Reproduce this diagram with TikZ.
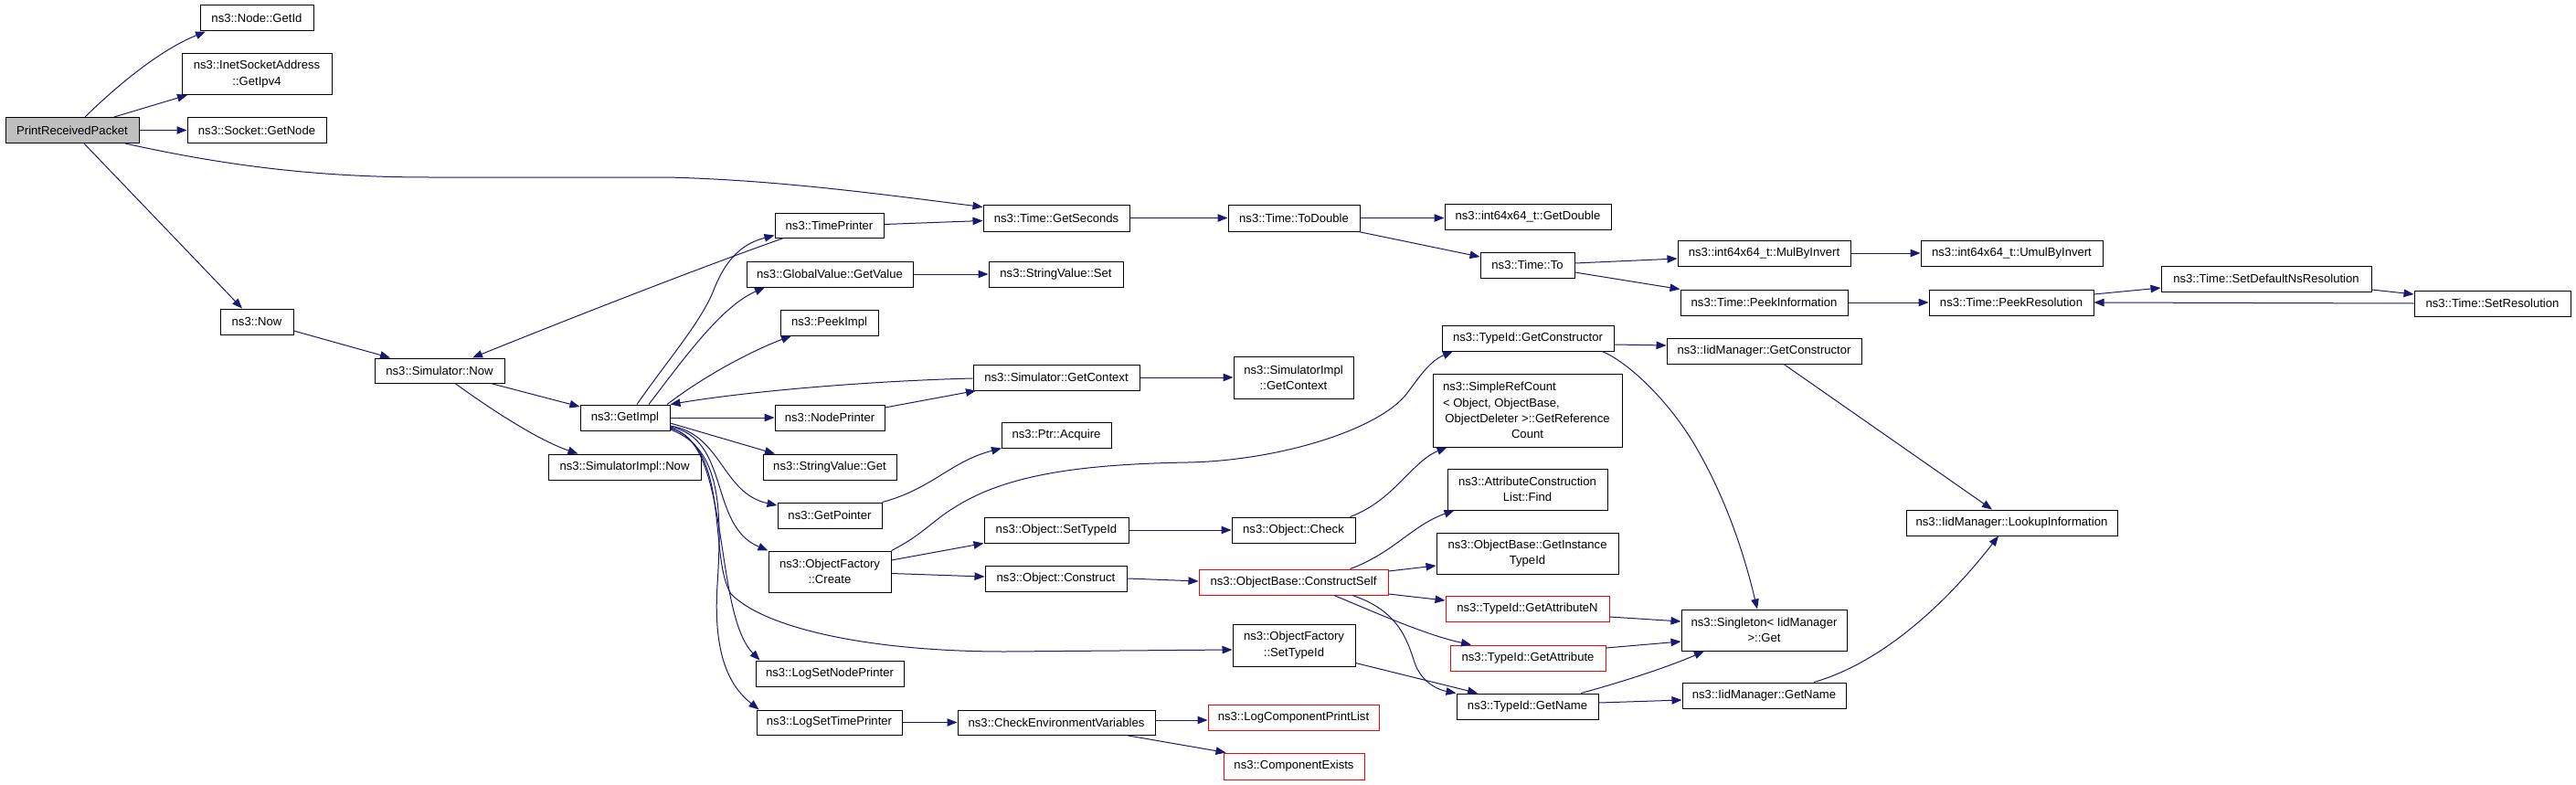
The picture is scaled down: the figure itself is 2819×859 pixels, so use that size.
\documentclass[tikz,border=0pt]{standalone}
\usepackage{fontspec}
\setmainfont{Liberation Sans}
\usetikzlibrary{arrows.meta}
\definecolor{edgec}{HTML}{191970}
\definecolor{fillg}{HTML}{BFBFBF}
\begin{document}
\begin{tikzpicture}[x=1pt,y=-1pt,
  bx/.style={draw=black, line width=1pt, fill=white, inner sep=0pt, align=center,
    font=\fontsize{13.1}{17.3}\selectfont, minimum height=28pt},
  redbx/.style={bx, draw=red},
  e/.style={draw=edgec, line width=1pt, -{Triangle[length=11pt,width=8.5pt]}}]
\useasboundingbox[fill=white] (0,0) rectangle (2819,859);
% nodes
\node[bx, fill=fillg, minimum width=146pt] (prp) at (79,142.5) {PrintReceivedPacket};
\node[bx, minimum width=124pt] (getid) at (281,20) {ns3::Node::GetId};
\node[bx, minimum width=164pt, minimum height=45pt] (ipv4) at (281,81) {ns3::InetSocketAddress\\::GetIpv4};
\node[bx, minimum width=152pt] (socket) at (281,142.5) {ns3::Socket::GetNode};
\node[bx, minimum width=80pt] (now) at (281,352) {ns3::Now};
\node[bx, minimum width=142pt, minimum height=27pt] (simnow) at (481,405.5) {ns3::Simulator::Now};
\node[bx, minimum width=98pt] (getimpl) at (684,457) {ns3::GetImpl};
\node[bx, minimum width=167pt] (simimplnow) at (683.5,511) {ns3::SimulatorImpl::Now};
\node[bx, minimum width=119pt, minimum height=27pt] (tp) at (907.5,246.5) {ns3::TimePrinter};
\node[bx, minimum width=182pt] (gv) at (908,300) {ns3::GlobalValue::GetValue};
\node[bx, minimum width=107pt] (peekimpl) at (907.5,353) {ns3::PeekImpl};
\node[bx, minimum width=120pt] (np) at (908,457) {ns3::NodePrinter};
\node[bx, minimum width=146pt] (svget) at (908,511) {ns3::StringValue::Get};
\node[bx, minimum width=114pt] (getptr) at (908,564) {ns3::GetPointer};
\node[bx, minimum width=134pt, minimum height=45pt] (create) at (908,625.5) {ns3::ObjectFactory\\::Create};
\node[bx, minimum width=162pt] (lsnp) at (908,737) {ns3::LogSetNodePrinter};
\node[bx, minimum width=159pt, minimum height=27pt] (lstp) at (907.5,790.5) {ns3::LogSetTimePrinter};
\node[bx, minimum width=160pt, minimum height=29pt] (getsec) at (1156,238.5) {ns3::Time::GetSeconds};
\node[bx, minimum width=147pt] (svset) at (1155.5,300) {ns3::StringValue::Set};
\node[bx, minimum width=182pt] (getctx) at (1156,413) {ns3::Simulator::GetContext};
\node[bx, minimum width=120pt] (acquire) at (1156,476) {ns3::Ptr::Acquire};
\node[bx, minimum width=158pt] (osettid) at (1156,580) {ns3::Object::SetTypeId};
\node[bx, minimum width=155pt] (oconstruct) at (1155.5,633) {ns3::Object::Construct};
\node[bx, minimum width=216pt, minimum height=27pt] (checkenv) at (1156,790.5) {ns3::CheckEnvironmentVariables};
\node[bx, minimum width=144pt, minimum height=29pt] (todouble) at (1416,238.5) {ns3::Time::ToDouble};
\node[bx, minimum width=131pt, minimum height=46pt] (simimplctx) at (1415.5,413) {ns3::SimulatorImpl\\::GetContext};
\node[bx, minimum width=135pt] (check) at (1415.5,580) {ns3::Object::Check};
\node[redbx, minimum width=207pt] (cself) at (1415.5,637) {ns3::ObjectBase::ConstructSelf};
\node[bx, minimum width=134pt, minimum height=46pt] (ofsettid) at (1416,706) {ns3::ObjectFactory\\::SetTypeId};
\node[redbx, minimum width=187pt] (lcpl) at (1415.5,785) {ns3::LogComponentPrintList};
\node[redbx, minimum width=154pt, minimum height=29pt] (compx) at (1416,838.5) {ns3::ComponentExists};
\node[bx, minimum width=182pt] (getdouble) at (1672,237) {ns3::int64x64\_t::GetDouble};
\node[bx, minimum width=103pt] (timeto) at (1671.5,290) {ns3::Time::To};
\node[bx, minimum width=188pt] (getctor) at (1672,370) {ns3::TypeId::GetConstructor};
\node[bx, minimum width=207pt, minimum height=80pt] (src) at (1671.5,449) {\makebox[185pt][l]{ns3::SimpleRefCount}\\\makebox[185pt][l]{< Object, ObjectBase,}\\ObjectDeleter >::GetReference\\Count};
\node[bx, minimum width=175pt, minimum height=45pt] (attrfind) at (1671.5,535.5) {ns3::AttributeConstruction\\List::Find};
\node[bx, minimum width=199pt, minimum height=45pt] (ginst) at (1671.5,605.5) {ns3::ObjectBase::GetInstance\\TypeId};
\node[redbx, minimum width=179pt] (gattrn) at (1671.5,666) {ns3::TypeId::GetAttributeN};
\node[redbx, minimum width=170pt] (gattr) at (1672,720) {ns3::TypeId::GetAttribute};
\node[bx, minimum width=155pt] (gname) at (1671.5,773) {ns3::TypeId::GetName};
\node[bx, minimum width=189pt] (mulinv) at (1930.5,277) {ns3::int64x64\_t::MulByInvert};
\node[bx, minimum width=183pt] (peekinfo) at (1930.5,331) {ns3::Time::PeekInformation};
\node[bx, minimum width=213pt] (iidctor) at (1930.5,384) {ns3::IidManager::GetConstructor};
\node[bx, minimum width=181pt, minimum height=45pt] (singleton) at (1930.5,689.5) {ns3::Singleton< IidManager\\>::Get};
\node[bx, minimum width=179pt] (iidgetname) at (1930.5,761) {ns3::IidManager::GetName};
\node[bx, minimum width=199pt] (umul) at (2201.5,277) {ns3::int64x64\_t::UmulByInvert};
\node[bx, minimum width=180pt] (peekres) at (2201,331) {ns3::Time::PeekResolution};
\node[bx, minimum width=231pt] (lookup) at (2201.5,572) {ns3::IidManager::LookupInformation};
\node[bx, minimum width=230pt] (setdef) at (2480,305) {ns3::Time::SetDefaultNsResolution};
\node[bx, minimum width=171pt] (setres) at (2727.5,332) {ns3::Time::SetResolution};
% edges
\draw[e] ([xshift=14pt]prp.north) .. controls (130,92) and (175,55) .. ([xshift=-56pt]getid.south);
\draw[e] ([xshift=46pt]prp.north) -- ([xshift=-76pt]ipv4.south);
\draw[e] (prp.east) -- (socket.west);
\draw[e] ([xshift=58pt]prp.south) .. controls (250,182) and (350,194) .. (470,194) -- (730,194) .. controls (850,197) and (960,212) .. ([yshift=12pt]getsec.west);
\draw[e] ([xshift=13pt]prp.south) -- ([xshift=-16pt]now.north);
\draw[e] ([yshift=-10pt]now.east) -- ([xshift=-54pt]simnow.north);
\draw[e] ([xshift=56pt]simnow.south) -- ([yshift=12pt]getimpl.west);
\draw[e] ([xshift=17pt]simnow.south) .. controls (540,450) and (590,482) .. ([xshift=-51pt]simimplnow.north);
\draw[e] ([xshift=-50pt]tp.south) .. controls (760,295) and (620,350) .. ([xshift=36pt]simnow.north);
\draw[e] ([xshift=13pt]getimpl.north) .. controls (730,395) and (765,355) .. (780,320) .. controls (795,280) and (815,266) .. ([yshift=-11pt]tp.west);
\draw[e] ([yshift=1pt]tp.east) -- ([yshift=-3pt]getsec.west);
\draw[e] ([xshift=26pt]getimpl.north) .. controls (750,390) and (790,335) .. ([xshift=-71pt]gv.south);
\draw[e] (gv.east) -- (svset.west);
\draw[e] ([xshift=46pt]getimpl.north) .. controls (770,412) and (820,385) .. ([xshift=-41.5pt]peekimpl.south);
\draw[e] ([yshift=-1pt]getctx.west) .. controls (950,417) and (820,428) .. (getimpl.north east);
\draw[e] ([yshift=11pt]np.east) -- ([xshift=-88pt]getctx.south);
\draw[e] (getctx.east) -- (simimplctx.west);
\draw[e] (getimpl.east) -- (np.west);
\draw[e] ([yshift=-6pt]getimpl.east) -- ([xshift=-60pt]svget.north);
\draw[e] ([yshift=-9pt]getimpl.east) .. controls (790,475) and (790,540) .. ([yshift=11pt]getptr.west);
\draw[e] ([yshift=-10pt]getimpl.east) .. controls (800,480) and (775,575) .. (create.north west);
\draw[e] ([yshift=-11pt]getimpl.east) .. controls (800,490) and (775,610) .. (800,650) .. controls (840,690) and (960,713) .. (1100,713) -- ([yshift=-5pt]ofsettid.west);
\draw[e] ([yshift=-12pt]getimpl.east) .. controls (800,480) and (780,670) .. ([xshift=5pt]lsnp.north west);
\draw[e] ([yshift=-13pt]getimpl.east) .. controls (790,490) and (790,560) .. (785,640) .. controls (780,720) and (800,752) .. ([xshift=3pt]lstp.north west);
\draw[e] (getptr.north east) .. controls (1020,535) and (1040,505) .. ([xshift=-60pt]acquire.south);
\draw[e] (create.north east) .. controls (1010,585) and (1020,570) .. (1045,555) .. controls (1100,520) and (1180,508) .. (1300,506) .. controls (1400,504) and (1510,470) .. (1540,430) .. controls (1555,410) and (1565,395) .. ([xshift=-82pt]getctor.south);
\draw[e] ([yshift=12.5pt]create.east) -- (osettid.south west);
\draw[e] ([yshift=-2pt]create.east) -- ([yshift=2pt]oconstruct.west);
\draw[e] (osettid.east) -- (check.west);
\draw[e] (oconstruct.east) -- ([yshift=1pt]cself.west);
\draw[e] ([xshift=-6pt]check.north east) .. controls (1525,548) and (1545,505) .. ([xshift=-88pt]src.south);
\draw[e] ([xshift=-42pt]cself.north east) .. controls (1525,605) and (1545,575) .. ([xshift=-80pt]attrfind.south);
\draw[e] ([yshift=12pt]cself.east) -- ([yshift=-13.5pt]ginst.west);
\draw[e] ([yshift=-13pt]cself.east) -- ([yshift=9pt]gattrn.west);
\draw[e] ([xshift=44.5pt]cself.south) .. controls (1500,668) and (1560,695) .. ([xshift=-62pt]gattr.north);
\draw[e] ([xshift=64.5pt]cself.south) .. controls (1530,668) and (1540,700) .. (1548,725) .. controls (1556,748) and (1575,755) .. (gname.north west);
\draw[e] ([yshift=4pt]ofsettid.south east) -- ([xshift=-54.5pt]gname.north);
\draw[e] ([yshift=-9pt]gattrn.east) -- ([yshift=9.5pt]singleton.west);
\draw[e] ([yshift=11pt]gattr.east) -- ([yshift=-12.5pt]singleton.west);
\draw[e] ([xshift=58.5pt]gname.north) .. controls (1780,745) and (1830,728) .. ([xshift=-65.5pt]singleton.south);
\draw[e] ([yshift=4pt]gname.east) -- ([yshift=-5pt]iidgetname.west);
\draw[e] ([yshift=-7pt]getctor.east) -- ([yshift=6pt]iidctor.west);
\draw[e] ([xshift=81pt]getctor.south) .. controls (1780,395) and (1830,440) .. (1862,500) .. controls (1895,560) and (1912,620) .. ([xshift=-7.5pt]singleton.north);
\draw[e] ([xshift=21.5pt]iidctor.south) -- ([xshift=-21.5pt]lookup.north);
\draw[e] ([xshift=54.5pt]iidgetname.north) .. controls (2060,725) and (2130,660) .. ([xshift=-14.5pt]lookup.south);
\draw[e] (getsec.east) -- (todouble.west);
\draw[e] (todouble.east) -- ([yshift=-1.5pt]getdouble.west);
\draw[e] ([xshift=-2pt]todouble.south east) -- ([yshift=9pt]timeto.west);
\draw[e] ([yshift=2pt]timeto.east) -- ([yshift=-6pt]mulinv.west);
\draw[e] ([yshift=-8pt]timeto.east) -- (peekinfo.north west);
\draw[e] (mulinv.east) -- (umul.west);
\draw[e] (peekinfo.east) -- (peekres.west);
\draw[e] ([yshift=9pt]peekres.east) -- ([yshift=-10pt]setdef.west);
\draw[e] ([yshift=-12pt]setdef.east) -- ([yshift=10pt]setres.west);
\draw[e] (setres.west) -- (peekres.east);
\draw[e] ([yshift=2.5pt]checkenv.east) -- ([yshift=-3pt]lcpl.west);
\draw[e] ([xshift=76pt]checkenv.south) -- ([xshift=3pt]compx.north west);
\draw[e] (lstp.east) -- (checkenv.west);
\end{tikzpicture}
\end{document}
